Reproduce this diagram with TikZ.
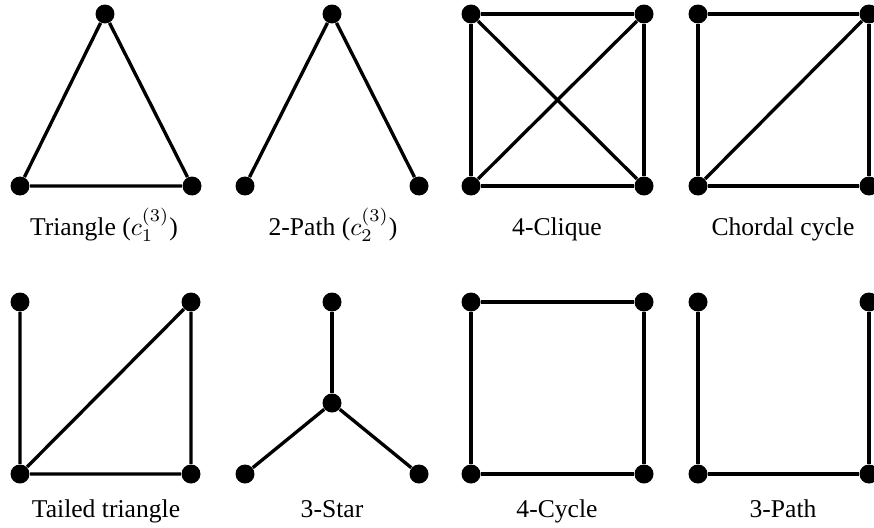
\documentclass[tikz,border=0pt]{standalone}
\usepackage{fontspec}
\setmainfont{Liberation Serif}
\begin{document}
\begin{tikzpicture}[x=0.390625pt,y=-0.390625pt,
  vtx/.style={circle,fill=black,inner sep=0pt,minimum size=7.42pt},
  edge/.style={line width=1.3pt,black},
  lbl/.style={anchor=base,inner sep=0pt,font=\normalsize}]
\clip (0,0) rectangle (874,527);
% Triangle
\node[vtx] (a1) at (105,14) {};
\node[vtx] (a2) at (20,186) {};
\node[vtx] (a3) at (192,186) {};
\draw[edge] (a1) -- (a2) -- (a3) -- (a1);
\node[lbl] (la) at (104,235) {Triangle ($c_1^{(3)}$)};
% 2-Path
\node[vtx] (b1) at (332,14) {};
\node[vtx] (b2) at (245,186) {};
\node[vtx] (b3) at (419,186) {};
\draw[edge] (b2) -- (b1) -- (b3);
\node[lbl] (lb) at (333,235) {2-Path ($c_2^{(3)}$)};
% 4-Clique
\node[vtx] (c1) at (471,14) {};
\node[vtx] (c2) at (644,14) {};
\node[vtx] (c3) at (471,186) {};
\node[vtx] (c4) at (644,186) {};
\draw[edge] (c1) -- (c2) -- (c4) -- (c3) -- (c1);
\draw[edge] (c1) -- (c4);
\draw[edge] (c2) -- (c3);
\node[lbl] (lc) at (557,235) {4-Clique};
% Chordal cycle
\node[vtx] (d1) at (698,14) {};
\node[vtx] (d2) at (869,14) {};
\node[vtx] (d3) at (698,186) {};
\node[vtx] (d4) at (869,186) {};
\draw[edge] (d1) -- (d2) -- (d4) -- (d3) -- (d1);
\draw[edge] (d2) -- (d3);
\node[lbl] (ld) at (783,235) {Chordal cycle};
% Tailed triangle
\node[vtx] (e1) at (20,302) {};
\node[vtx] (e2) at (191,302) {};
\node[vtx] (e3) at (20,474) {};
\node[vtx] (e4) at (191,474) {};
\draw[edge] (e1) -- (e3) -- (e4) -- (e2) -- (e3);
\node[lbl] (le) at (106,517) {Tailed triangle};
% 3-Star
\node[vtx] (f1) at (332,302) {};
\node[vtx] (f0) at (332,403) {};
\node[vtx] (f2) at (245,474) {};
\node[vtx] (f3) at (419,474) {};
\draw[edge] (f0) -- (f1);
\draw[edge] (f0) -- (f2);
\draw[edge] (f0) -- (f3);
\node[lbl] (lf) at (332,517) {3-Star};
% 4-Cycle
\node[vtx] (g1) at (471,302) {};
\node[vtx] (g2) at (644,302) {};
\node[vtx] (g3) at (471,474) {};
\node[vtx] (g4) at (644,474) {};
\draw[edge] (g1) -- (g2) -- (g4) -- (g3) -- (g1);
\node[lbl] (lg) at (557,517) {4-Cycle};
% 3-Path
\node[vtx] (h1) at (698,302) {};
\node[vtx] (h2) at (869,302) {};
\node[vtx] (h3) at (698,474) {};
\node[vtx] (h4) at (869,474) {};
\draw[edge] (h1) -- (h3) -- (h4) -- (h2);
\node[lbl] (lh) at (783,517) {3-Path};
\end{tikzpicture}
\end{document}
